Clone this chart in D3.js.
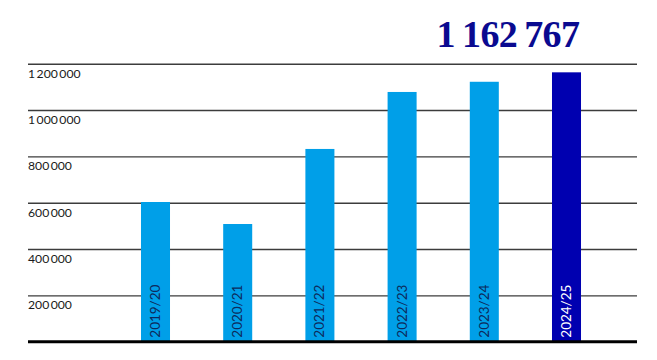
<!DOCTYPE html>
<html>
<head>
<meta charset="utf-8">
<script src="https://cdn.jsdelivr.net/npm/d3@7"></script>
<style>
  body { margin: 0; background: #fff; }
  svg { display: block; }
</style>
</head>
<body>
<svg id="chart" width="657" height="360"></svg>
<script>
(function () {
    'use strict';

    const WIDTH = 657;
    const HEIGHT = 360;

    // data
    const seasons = ["2019/20", "2020/21", "2021/22", "2022/23", "2023/24", "2024/25"];
    const visitors = [603000, 508000, 832000, 1078000, 1122000, 1162767];
    const yTicks = [200000, 400000, 600000, 800000, 1000000, 1200000];
    const headline = "1\u2009162\u2009767";

    const LIGHT = "#009fe8";
    const DARK = "#0000b0";

    let svg = d3.select("#chart");

    let x = d3.scaleBand()
        .domain(seasons)
        .range([114.4, 607.6])
        .paddingInner(0.647)
        .paddingOuter(0.3235);

    let y = d3.scaleLinear()
        .domain([0, 1200000])
        .range([341.7, 63.7]);

    let fmt = v => d3.format(",")(v).replace(/,/g, "\u2009");

    // gridlines + tick labels sit under each line
    let grid = svg.append("g")
        .attr("transform", "translate(28,0)")
        .call(d3.axisRight(y).tickValues(yTicks).tickSize(609).tickFormat(fmt));
    grid.select(".domain").remove();
    grid.selectAll(".tick line")
        .attr("stroke", "#3c3c3c")
        .attr("stroke-width", 1.4);
    grid.selectAll(".tick text")
        .attr("x", 0)
        .attr("dy", "1.1em")
        .attr("text-anchor", "start")
        .attr("fill", "#1a1a1a")
        .style("font-family", "Lato, 'Noto Sans', sans-serif")
        .style("font-size", "12.2px");

    // bars
    svg.append("g")
        .selectAll("rect")
        .data(seasons)
        .join("rect")
        .attr("x", d => x(d))
        .attr("width", x.bandwidth())
        .attr("y", (d, i) => y(visitors[i]))
        .attr("height", (d, i) => y(0) - y(visitors[i]))
        .attr("fill", (d, i) => i === seasons.length - 1 ? DARK : LIGHT);

    // season labels, vertical inside bars
    svg.append("g")
        .selectAll("text")
        .data(seasons)
        .join("text")
        .attr("transform", d => `translate(${x(d) + x.bandwidth() / 2 + 4.5},${y(0) - 4}) rotate(-90)`)
        .attr("text-anchor", "start")
        .attr("fill", (d, i) => i === seasons.length - 1 ? "#ffffff" : "#0d2a5c")
        .style("font-family", "Lato, 'Noto Sans', sans-serif")
        .style("font-size", "13.5px")
        .text(d => d);

    // baseline
    svg.append("line")
        .attr("x1", 28)
        .attr("x2", 637)
        .attr("y1", y(0))
        .attr("y2", y(0))
        .attr("stroke", "#000")
        .attr("stroke-width", 3);

    // headline total above the last bar
    svg.append("text")
        .attr("x", 508)
        .attr("y", 47)
        .attr("text-anchor", "middle")
        .attr("fill", "#0a0a90")
        .style("font-family", "'Liberation Serif', 'DejaVu Serif', serif")
        .style("font-weight", "bold")
        .style("font-size", "38px")
        .style("letter-spacing", "-0.6px")
        .text(headline);
})();
</script>
</body>
</html>
